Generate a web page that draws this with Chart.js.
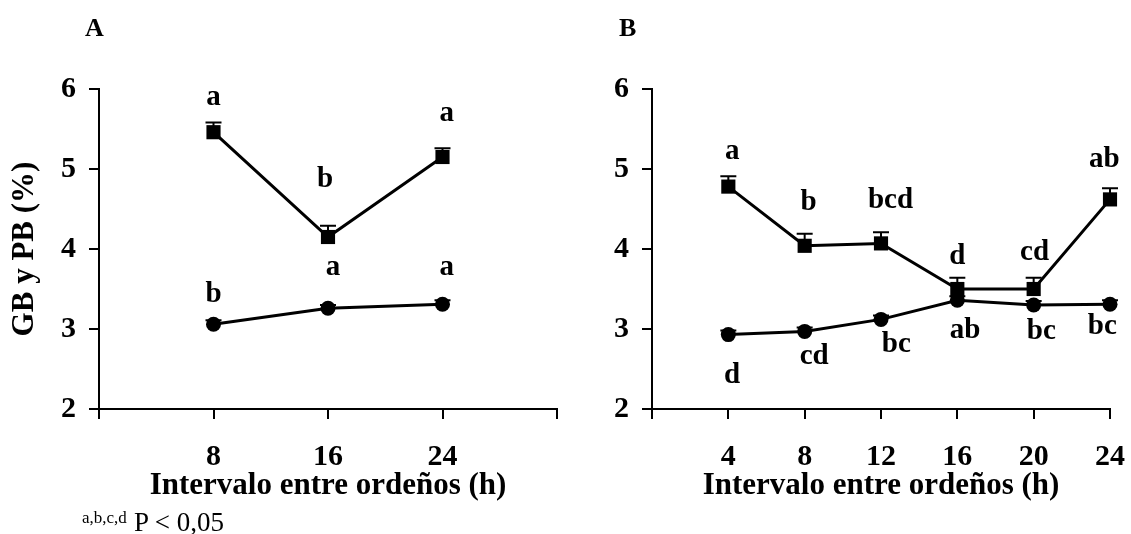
<!DOCTYPE html>
<html>
<head>
<meta charset="utf-8">
<script src="https://cdn.jsdelivr.net/npm/chart.js@4"></script>
<style>
  body { margin: 0; background: #fff; width: 1131px; height: 534px; position: relative; overflow: hidden;
         font-family: "Liberation Serif", "Times New Roman", serif; color: #000; }
  canvas { display: block; }
  #wrapA { position: absolute; left: 0; top: 0; width: 575px; height: 534px; }
  #wrapB { position: absolute; left: 575px; top: 0; width: 556px; height: 534px; }
  .panel { position: absolute; font-weight: bold; font-size: 26px; line-height: 26px; }
  .note { position: absolute; white-space: nowrap; }
</style>
</head>
<body>
<div id="wrapA"><canvas id="chartA" width="575" height="534"></canvas></div>
<div id="wrapB"><canvas id="chartB" width="556" height="534"></canvas></div>
<div class="panel" style="left:85px;top:15px">A</div>
<div class="panel" style="left:619px;top:15px">B</div>
<div class="note" style="left:82px;top:509px;font-size:17px;line-height:17px">a,b,c,d</div>
<div class="note" style="left:134px;top:509px;font-size:27px;line-height:27px">P &lt; 0,05</div>

<script>
// ---- Panel A : intervals 8, 16, 24 h ----
const hoursA = [8, 16, 24];
const gbA = [5.46, 4.15, 5.15];        // squares
const gbErrA = [0.12, 0.14, 0.11];
const pbA = [3.06, 3.26, 3.31];        // circles
const pbErrA = [0.05, 0.04, 0.05];
const gbLettersA = ['a', 'b', 'a'];
const gbLetterXA = [8, 15.8, 24.3];
const gbLetterYA = [5.88, 4.90, 5.68];
const pbLettersA = ['b', 'a', 'a'];
const pbLetterXA = [8, 16.35, 24.3];
const pbLetterYA = [3.46, 3.76, 3.76];

// ---- Panel B : intervals 4 ... 24 h ----
const hoursB = [4, 8, 12, 16, 20, 24];
const gbB = [4.78, 4.04, 4.07, 3.50, 3.50, 4.62];
const gbErrB = [0.13, 0.15, 0.14, 0.14, 0.14, 0.14];
const pbB = [2.93, 2.97, 3.12, 3.36, 3.30, 3.31];
const pbErrB = [0.05, 0.05, 0.05, 0.05, 0.05, 0.05];
const gbLettersB = ['a', 'b', 'bcd', 'd', 'cd', 'ab'];
const gbLetterXB = [4.2, 8.2, 12.5, 16.0, 20.05, 23.7];
const gbLetterYB = [5.21, 4.61, 4.64, 3.93, 3.98, 5.15];
const pbLettersB = ['d', 'cd', 'bc', 'ab', 'bc', 'bc'];
const pbLetterXB = [4.2, 8.5, 12.8, 16.4, 20.4, 23.6];
const pbLetterYB = [2.45, 2.68, 2.84, 3.01, 3.00, 3.06];

const yTicks = [2, 3, 4, 5, 6];
const FONT = '"Liberation Serif", "Times New Roman", serif';

function makeChart(id, cfg) {
  const ctxEl = document.getElementById(id);

  // error bars (upper only) drawn under the markers, letters on top
  const extras = {
    id: 'extras_' + id,
    beforeDatasetsDraw(chart) {
      const { ctx, scales: { x, y } } = chart;
      ctx.save();
      ctx.strokeStyle = '#000';
      ctx.lineWidth = 2;
      [[cfg.gb, cfg.gbErr], [cfg.pb, cfg.pbErr]].forEach(([vals, errs]) => {
        vals.forEach((v, i) => {
          const px = x.getPixelForValue(cfg.hours[i]);
          const y0 = y.getPixelForValue(v);
          const y1 = y.getPixelForValue(v + errs[i]);
          ctx.beginPath();
          ctx.moveTo(px, y0); ctx.lineTo(px, y1);
          ctx.moveTo(px - 8, y1); ctx.lineTo(px + 8, y1);
          ctx.stroke();
        });
      });
      ctx.restore();
    },
    afterDatasetsDraw(chart) {
      const { ctx, scales: { x, y } } = chart;
      const size = 29;
      ctx.save();
      ctx.fillStyle = '#000';
      ctx.font = 'bold ' + size + 'px ' + FONT;
      ctx.textAlign = 'center';
      ctx.textBaseline = 'alphabetic';
      const draw = (txts, xs, ys) => txts.forEach((t, i) => {
        const asc = /[bdh]/.test(t);
        const cy = y.getPixelForValue(ys[i]);
        ctx.fillText(t, x.getPixelForValue(xs[i]), cy + (asc ? 0.34 : 0.23) * size);
      });
      draw(cfg.gbLetters, cfg.gbLetterX, cfg.gbLetterY);
      draw(cfg.pbLetters, cfg.pbLetterX, cfg.pbLetterY);
      ctx.restore();
    }
  };

  const axisGrid = { drawOnChartArea: false, drawTicks: true, tickLength: 10, color: '#000', lineWidth: 2 };
  const axisBorder = { display: true, color: '#000', width: 2 };

  return new Chart(ctxEl, {
    type: 'line',
    data: {
      datasets: [
        {
          label: 'GB',
          data: cfg.hours.map((h, i) => ({ x: h, y: cfg.gb[i] })),
          borderColor: '#000', backgroundColor: '#000', borderWidth: 3,
          pointStyle: 'rect', pointRadius: 10, pointBorderWidth: 0,
          tension: 0, clip: false
        },
        {
          label: 'PB',
          data: cfg.hours.map((h, i) => ({ x: h, y: cfg.pb[i] })),
          borderColor: '#000', backgroundColor: '#000', borderWidth: 3,
          pointStyle: 'circle', pointRadius: 7.5, pointBorderWidth: 0,
          tension: 0, clip: false
        }
      ]
    },
    options: {
      responsive: false,
      animation: false,
      layout: { padding: { top: 89, right: cfg.padRight, left: 0, bottom: 0 } },
      plugins: { legend: { display: false }, tooltip: { enabled: false } },
      scales: {
        x: {
          type: 'linear', min: 0, max: cfg.xMax,
          ticks: {
            stepSize: cfg.xStep, autoSkip: false, maxRotation: 0, padding: 20, color: '#000',
            font: { family: FONT, size: 30, weight: 'bold' },
            callback: v => cfg.hours.includes(v) ? String(v) : ''
          },
          grid: axisGrid,
          border: axisBorder,
          title: {
            display: true, text: 'Intervalo entre ordeños (h)', color: '#000',
            font: { family: FONT, size: 31, weight: 'bold' }, padding: { top: 0, bottom: 29 }
          },
          afterFit: s => { s.height = 125; s.paddingLeft = 0; s.paddingRight = 0; }
        },
        y: {
          min: 2, max: 6,
          afterBuildTicks: s => { s.ticks = yTicks.map(v => ({ value: v })); },
          ticks: { padding: 13, color: '#000', font: { family: FONT, size: 30, weight: 'bold' } },
          grid: axisGrid,
          border: axisBorder,
          title: {
            display: cfg.yTitle, text: 'GB y PB (%)', color: '#000',
            font: { family: FONT, size: 31, weight: 'bold' }, padding: { top: 6, bottom: 0 }
          },
          afterFit: s => { s.width = cfg.yWidth; s.paddingTop = 0; s.paddingBottom = 0; }
        }
      }
    },
    plugins: [extras]
  });
}

makeChart('chartA', {
  hours: hoursA, gb: gbA, gbErr: gbErrA, pb: pbA, pbErr: pbErrA,
  gbLetters: gbLettersA, gbLetterX: gbLetterXA, gbLetterY: gbLetterYA,
  pbLetters: pbLettersA, pbLetterX: pbLetterXA, pbLetterY: pbLetterYA,
  xMax: 32, xStep: 8, yTitle: true, yWidth: 99, padRight: 18
});

makeChart('chartB', {
  hours: hoursB, gb: gbB, gbErr: gbErrB, pb: pbB, pbErr: pbErrB,
  gbLetters: gbLettersB, gbLetterX: gbLetterXB, gbLetterY: gbLetterYB,
  pbLetters: pbLettersB, pbLetterX: pbLetterXB, pbLetterY: pbLetterYB,
  xMax: 24, xStep: 4, yTitle: false, yWidth: 77, padRight: 21
});
</script>
</body>
</html>
